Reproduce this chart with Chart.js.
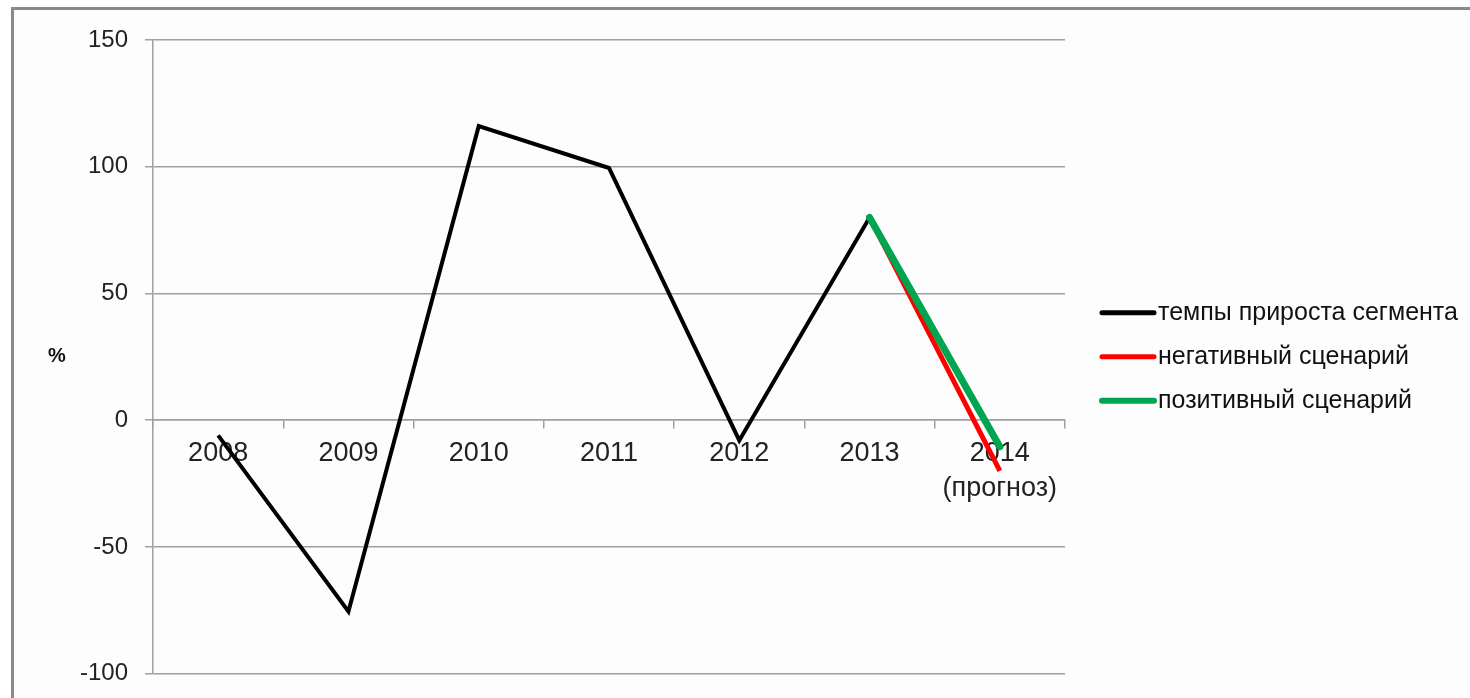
<!DOCTYPE html>
<html lang="ru">
<head>
    <meta charset="UTF-8">
    <title>Темпы прироста сегмента</title>
    <script src="https://cdn.jsdelivr.net/npm/chart.js"></script>
    <style>
        html, body {
            margin: 0;
            padding: 0;
            background: #fff;
            overflow: hidden;
            height: 698px;
        }
        .frame {
            position: absolute;
            left: 11px;
            top: 7px;
            width: 1500px;
            height: 720px;
            border: 3px solid #8a8a8a;
            background: #fdfdfd;
        }
        .wrap {
            position: absolute;
            left: 0;
            top: 0;
            width: 1470px;
            height: 705px;
        }
    </style>
</head>
<body>
    <div class="frame"></div>
    <div class="wrap"><canvas id="chart"></canvas></div>

    <script>
        // values
        const years = ['2008', '2009', '2010', '2011', '2012', '2013', ['2014', '(прогноз)']];
        const growth = [-6, -75.5, 116, 99.5, -8, 80, null];
        const negative = [null, null, null, null, null, 80, -20];
        const positive = [null, null, null, null, null, 80, -10.5];
        const seriesNames = ['темпы прироста сегмента', 'негативный сценарий', 'позитивный сценарий'];
        const seriesColors = ['#000000', '#ff0000', '#00a550'];
        const yMin = -100, yMax = 150, yStep = 50;

        const fontFamily = "'Liberation Sans', Arial, sans-serif";
        const gridColor = '#a0a0a0';

        // legend drawn as lines at the right, like the original
        const lineLegend = {
            id: 'lineLegend',
            afterDraw(chart) {
                const ctx = chart.ctx;
                const area = chart.chartArea;
                const mid = (area.top + area.bottom) / 2;
                const gap = 44;
                ctx.save();
                ctx.font = '25px ' + fontFamily;
                ctx.textBaseline = 'middle';
                ctx.fillStyle = '#111';
                chart.data.datasets.forEach((ds, i) => {
                    const y = mid + (i - 1) * gap;
                    const x0 = area.right + 37;
                    ctx.beginPath();
                    ctx.strokeStyle = ds.borderColor;
                    ctx.lineWidth = Math.max(5, Math.min(ds.borderWidth, 6));
                    ctx.lineCap = 'round';
                    ctx.moveTo(x0, y);
                    ctx.lineTo(x0 + 52, y);
                    ctx.stroke();
                    ctx.fillText(ds.label, x0 + 56, y);
                });
                // y axis title "%"
                ctx.font = 'bold 20px ' + fontFamily;
                ctx.textAlign = 'center';
                ctx.fillText('%', 57, mid);
                ctx.restore();
            }
        };

        new Chart(document.getElementById('chart'), {
            type: 'line',
            data: {
                labels: years,
                datasets: [
                    { label: seriesNames[0], data: growth, borderColor: seriesColors[0], borderWidth: 4, order: 2 },
                    { label: seriesNames[1], data: negative, borderColor: seriesColors[1], borderWidth: 5, order: 1 },
                    { label: seriesNames[2], data: positive, borderColor: seriesColors[2], borderWidth: 7, order: 0, borderCapStyle: 'round' }
                ]
            },
            options: {
                responsive: true,
                maintainAspectRatio: false,
                animation: false,
                elements: { point: { radius: 0 }, line: { tension: 0, borderJoinStyle: 'miter' } },
                layout: { padding: { top: 40, right: 405, bottom: 16, left: 0 } },
                plugins: { legend: { display: false }, tooltip: { enabled: false } },
                scales: {
                    x: {
                        position: { y: 0 },
                        offset: true,
                        grid: { offset: true, drawOnChartArea: false, tickLength: 8, color: gridColor, lineWidth: 1.5 },
                        border: { color: gridColor, width: 1.5 },
                        ticks: { color: '#222', padding: 8, maxRotation: 0, font: { family: fontFamily, size: 27, lineHeight: 1.3 } }
                    },
                    y: {
                        min: yMin,
                        max: yMax,
                        afterFit(scale) { scale.width = 153; },
                        grid: { color: gridColor, lineWidth: 1.5, tickLength: 8 },
                        border: { color: gridColor, width: 1.5 },
                        ticks: { stepSize: yStep, color: '#222', padding: 17, font: { family: fontFamily, size: 24 } }
                    }
                }
            },
            plugins: [lineLegend]
        });
    </script>
</body>
</html>
